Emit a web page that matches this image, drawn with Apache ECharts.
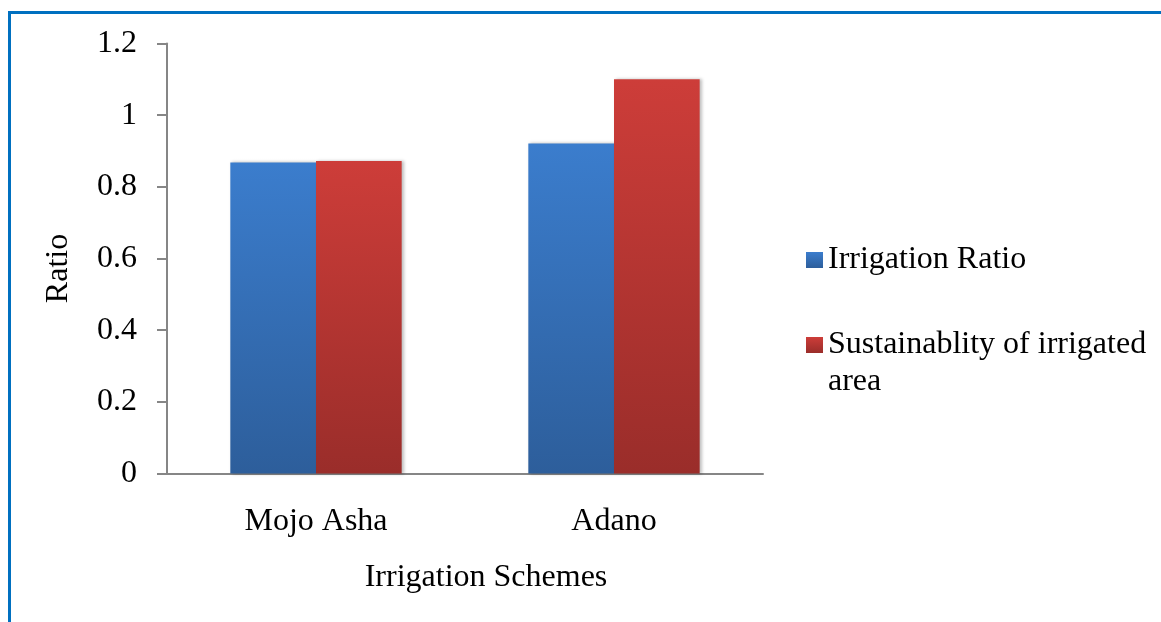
<!DOCTYPE html>
<html>
<head>
<meta charset="utf-8">
<script src="https://cdn.jsdelivr.net/npm/echarts@6/dist/echarts.min.js"></script>
<style>
  html, body { margin: 0; padding: 0; background: #ffffff; }
  #chart { width: 1161px; height: 622px; }
</style>
</head>
<body>
<div id="chart"></div>
<script>
// Irrigation schemes and their ratios
const categories = ['Mojo Asha', 'Adano'];
const irrigationRatio = [0.868, 0.921];
const sustainability = [0.872, 1.10];
const seriesNames = ['Irrigation Ratio', 'Sustainablity of irrigated area'];
const yTicks = { min: 0, max: 1.2, interval: 0.2 };

const FONT = '"Liberation Serif", "Times New Roman", serif';
const FS = 32;

function barGradient(top, bottom) {
  return new echarts.graphic.LinearGradient(0, 0, 0, 1, [
    { offset: 0, color: top },
    { offset: 1, color: bottom }
  ]);
}

const chart = echarts.init(document.getElementById('chart'), null, { renderer: 'canvas' });

const legendText = { fontFamily: FONT, fontSize: FS, color: '#000000', lineHeight: 37 };

chart.setOption({
  animation: false,
  backgroundColor: '#ffffff',
  graphic: [{
    type: 'rect',
    silent: true,
    shape: { x: 9.5, y: 12.5, width: 1400, height: 800 },
    style: { fill: 'none', stroke: '#0070c0', lineWidth: 3 }
  }],
  grid: { left: 167, right: 398, top: 43.5, bottom: 148.5, containLabel: false },
  legend: [{
    data: [seriesNames[0]],
    orient: 'vertical',
    left: 806,
    top: 241.5,
    padding: 0,
    itemWidth: 17,
    itemHeight: 16,
    icon: 'rect',
    textStyle: legendText
  }, {
    data: [seriesNames[1]],
    orient: 'vertical',
    left: 806,
    top: 289.5,
    padding: 0,
    itemWidth: 17,
    itemHeight: 16,
    icon: 'rect',
    // leading blank line keeps the marker level with the first text line
    formatter: function () { return '\nSustainablity of irrigated\narea'; },
    textStyle: legendText
  }],
  xAxis: {
    type: 'category',
    data: categories,
    name: 'Irrigation Schemes',
    nameLocation: 'middle',
    nameGap: 88,
    nameTextStyle: { fontFamily: FONT, fontSize: FS, color: '#000000', verticalAlign: 'top', padding: [0, 0, 0, 42] },
    axisLine: { lineStyle: { color: '#868686', width: 2 } },
    axisTick: { show: false },
    axisLabel: { fontFamily: FONT, fontSize: FS, color: '#000000', margin: 32 },
    splitLine: { show: false }
  },
  yAxis: {
    type: 'value',
    min: yTicks.min,
    max: yTicks.max,
    interval: yTicks.interval,
    name: 'Ratio',
    nameLocation: 'middle',
    nameGap: 92,
    nameTextStyle: { fontFamily: FONT, fontSize: FS, color: '#000000', padding: [0, 20, 0, 0] },
    axisLine: { show: true, lineStyle: { color: '#868686', width: 2 } },
    axisTick: { show: true, inside: false, length: 10, lineStyle: { color: '#868686', width: 2 } },
    axisLabel: { fontFamily: FONT, fontSize: FS, color: '#000000', margin: 30 },
    splitLine: { show: false }
  },
  series: [{
    name: seriesNames[0],
    type: 'bar',
    data: irrigationRatio,
    barGap: '0%',
    barCategoryGap: '42.5%',
    itemStyle: {
      color: barGradient('#3b7dcd', '#2d5e9b'),
      shadowColor: 'rgba(0,0,0,0.25)',
      shadowBlur: 3,
      shadowOffsetX: 2
    }
  }, {
    name: seriesNames[1],
    type: 'bar',
    data: sustainability,
    barGap: '0%',
    barCategoryGap: '42.5%',
    itemStyle: {
      color: barGradient('#cd3d39', '#9a2d2a'),
      shadowColor: 'rgba(0,0,0,0.25)',
      shadowBlur: 3,
      shadowOffsetX: 2
    }
  }]
});
</script>
</body>
</html>
